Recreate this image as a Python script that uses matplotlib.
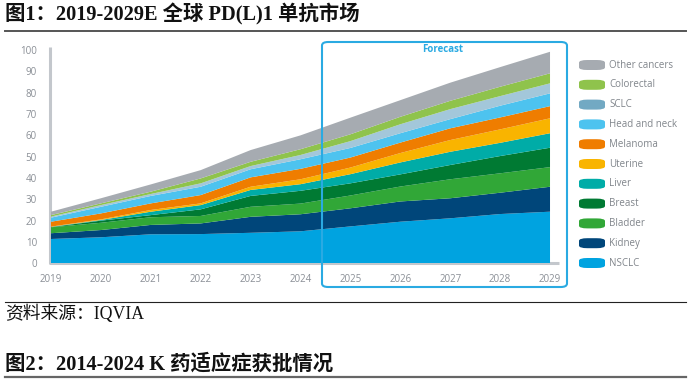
import matplotlib
matplotlib.use("Agg")
import matplotlib.pyplot as plt
from matplotlib.patches import FancyBboxPatch
from matplotlib.lines import Line2D

years = [2019, 2020, 2021, 2022, 2023, 2024, 2025, 2026, 2027, 2028, 2029]
categories = ["NSCLC", "Kidney", "Bladder", "Breast", "Liver", "Uterine",
              "Melanoma", "Head and neck", "SCLC", "Colorectal", "Other cancers"]
nsclc      = [11.4, 12.2, 13.6, 13.7, 14.3, 15.0, 17.3, 19.5, 21.1, 23.1, 24.2]
kidney     = [2.7, 3.4, 4.4, 5.0, 7.5, 8.0, 8.5, 9.5, 9.4, 10.0, 11.7]
bladder    = [2.8, 3.4, 3.6, 3.5, 4.7, 5.0, 6.0, 7.0, 8.9, 9.1, 9.2]
breast     = [0.1, 1.0, 1.0, 3.1, 5.1, 6.0, 5.7, 5.7, 6.7, 8.1, 9.1]
liver      = [0.1, 0.3, 1.6, 2.0, 2.8, 3.1, 4.3, 5.6, 6.2, 6.2, 6.8]
uterine    = [0.1, 0.3, 0.8, 0.8, 1.5, 2.3, 3.1, 4.4, 5.5, 6.3, 7.0]
melanoma   = [2.3, 2.8, 3.1, 3.9, 4.4, 4.9, 4.7, 4.9, 5.5, 5.6, 5.7]
head_neck  = [1.9, 3.1, 3.5, 3.9, 3.8, 4.5, 4.5, 4.4, 4.3, 5.5, 6.0]
sclc       = [0.5, 0.8, 0.9, 1.6, 1.5, 2.0, 3.2, 4.2, 4.7, 4.5, 4.7]
colorectal = [0.7, 0.8, 1.1, 2.3, 2.0, 2.7, 3.2, 3.5, 3.9, 4.4, 4.7]
other      = [1.6, 2.4, 3.4, 3.9, 5.5, 6.5, 7.8, 7.8, 8.5, 9.2, 10.1]
series = [nsclc, kidney, bladder, breast, liver, uterine, melanoma,
          head_neck, sclc, colorectal, other]
yticks = list(range(0, 101, 10))

area_colors = ["#00a3e0", "#00467a", "#31a737", "#007a33", "#00aca7", "#f9b400",
               "#ef7d00", "#4dc3ef", "#a3c7da", "#8fc34c", "#a6abb1"]
legend_colors = ["#00a3e0", "#00467a", "#31a737", "#007a33", "#00aca7", "#f9b400",
                 "#ef7d00", "#4dc3ef", "#72a9c3", "#8fc34c", "#a6abb1"]

W, H = 692, 390
fig = plt.figure(figsize=(W / 100, H / 100), dpi=100)

def fx(px):
    return px / W

def fy(py):
    return 1 - py / H

ax = fig.add_axes([fx(49.5), fy(263.3), fx(559) - fx(49.5), fy(47.3) - fy(263.3)])
ax.stackplot(years, *series, colors=area_colors, linewidth=0)
ax.set_xlim(2018.97, 2029.18)
ax.set_ylim(0, 101.3)
for s in ax.spines.values():
    s.set_visible(False)
# axis lines (left + bottom) with rounded corner
ax.add_line(Line2D([2018.97, 2018.97, 2029.18], [101.3, 0, 0], color="#c3c7cc",
                   lw=2.2, solid_joinstyle="round", solid_capstyle="butt",
                   transform=ax.transData, clip_on=False, zorder=0.5))
ax.set_yticks(yticks)
ax.set_xticks(years)
ax.tick_params(length=0, labelsize=7, labelcolor="#8a8f96")
for lab in ax.get_xticklabels() + ax.get_yticklabels():
    lab.set_fontfamily("Open Sans")
ax.tick_params(axis="y", pad=9)
ax.tick_params(axis="x", pad=8)

# Forecast box
box = FancyBboxPatch((fx(322), fy(287)), fx(567) - fx(322), fy(42) - fy(287),
                     boxstyle="round,pad=0,rounding_size=0.009",
                     transform=fig.transFigure, fill=False, edgecolor="#2aaae2",
                     lw=1.5, zorder=10)
fig.patches.append(box)
fig.text(fx(443), fy(50), "Forecast", color="#2aaae2", fontsize=7,
         fontweight="bold", fontfamily="Open Sans", ha="center", va="center")

# Legend
legend_order = list(range(len(categories)))[::-1]
for i, idx in enumerate(legend_order):
    cy = 65 + i * 19.8
    p = FancyBboxPatch((fx(579), fy(cy + 5)), fx(605) - fx(579), fy(cy - 5) - fy(cy + 5),
                       boxstyle="round,pad=0,rounding_size=0.012",
                       transform=fig.transFigure, facecolor=legend_colors[idx],
                       edgecolor="none", mutation_aspect=H / W)
    fig.patches.append(p)
    fig.text(fx(609), fy(cy), categories[idx], color="#80858b", fontsize=7,
             fontfamily="Open Sans", ha="left", va="center")

# Titles and rules
cjk = ["Liberation Serif", "Noto Sans CJK SC"]
fig.text(fx(5), fy(14), "图1：2019-2029E 全球 PD(L)1 单抗市场", fontsize=14.7,
         fontweight="bold", family=cjk, ha="left", va="center", color="#111111")
fig.add_artist(Line2D([fx(5), fx(686)], [fy(31), fy(31)], color="#555555", lw=1.4,
                      transform=fig.transFigure))
fig.add_artist(Line2D([fx(5), fx(686)], [fy(301.5), fy(301.5)], color="#222222", lw=0.8,
                      transform=fig.transFigure))
fig.text(fx(5), fy(314), "资料来源：IQVIA", fontsize=12.8, family=cjk,
         ha="left", va="center", color="#111111")
fig.text(fx(5), fy(364), "图2：2014-2024 K 药适应症获批情况", fontsize=14.7,
         fontweight="bold", family=cjk, ha="left", va="center", color="#111111")
fig.add_artist(Line2D([fx(5), fx(686)], [fy(377), fy(377)], color="#666666", lw=1.6,
                      transform=fig.transFigure))

fig.savefig("out.png", dpi=100)
